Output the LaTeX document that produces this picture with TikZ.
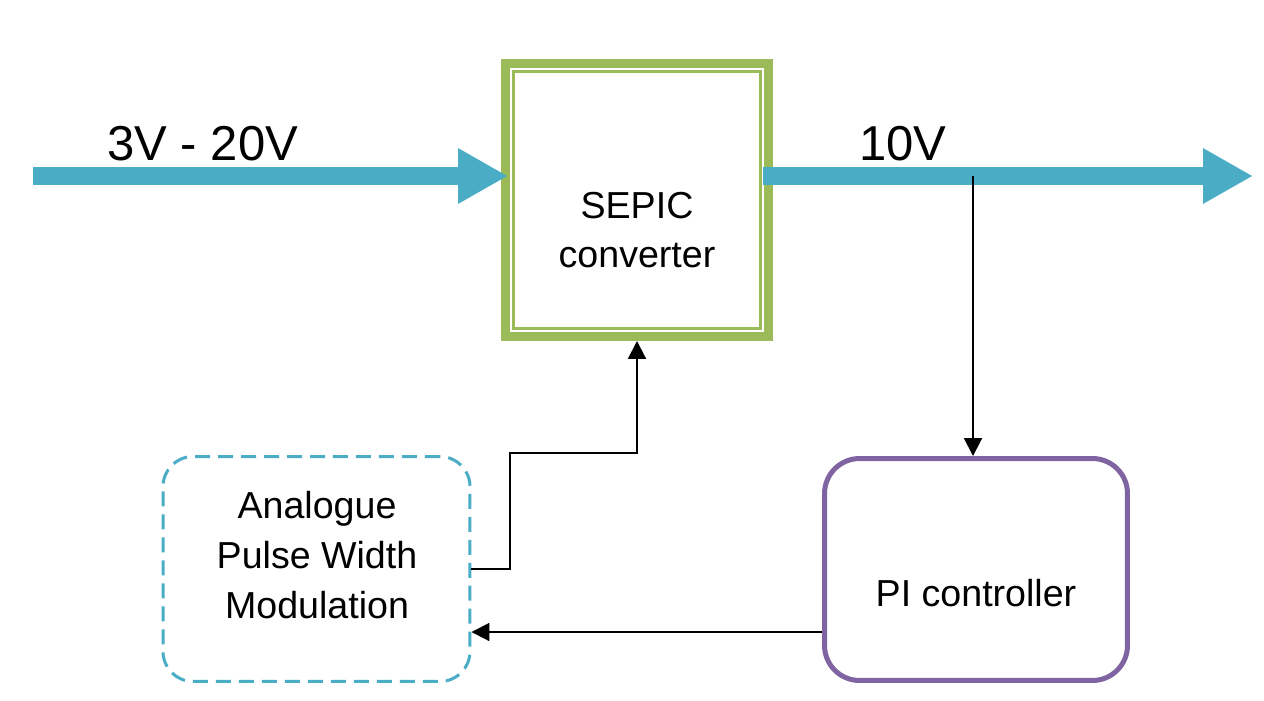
\documentclass[tikz,border=0pt]{standalone}
\usepackage{fontspec}
\setmainfont{Liberation Sans}
\usetikzlibrary{arrows.meta}
\definecolor{flowblue}{HTML}{4BACC6}
\definecolor{sepicgreen}{HTML}{9BBB59}
\definecolor{pipurple}{HTML}{8064A2}
\tikzset{
  flow/.style={draw=flowblue, line width=0.36cm, -{Triangle[length=1cm,width=1.04cm]}},
  conn/.style={draw=black, line width=0.04cm, -{Triangle[length=0.36cm,width=0.36cm]}},
  sepicbox/.style={draw=sepicgreen, line width=0.18cm, minimum width=5.26cm, minimum height=5.46cm, inner sep=0pt},
  pibox/.style={draw=pipurple, line width=0.1cm, rounded corners=0.7cm, minimum width=6.06cm, minimum height=4.44cm, inner sep=0pt},
  pwmbox/.style={draw=flowblue, line width=0.06cm, dash pattern=on 0.3cm off 0.16cm, rounded corners=0.6cm, minimum width=6.14cm, minimum height=4.5cm, inner sep=0pt},
  boxtext/.style={align=center, font=\fontsize{21.4}{28.3}\selectfont, inner sep=0pt},
  volttext/.style={font=\fontsize{27.9}{33}\selectfont, inner sep=0pt, anchor=base west}
}
\begin{document}
\begin{tikzpicture}[x=0.02cm,y=-0.02cm]
\useasboundingbox (0,0) rectangle (1264,700);
% boxes
\node[sepicbox] (sepic) at (637,200) {};
\draw[sepicgreen, line width=0.07cm] ([shift={(0.25cm,-0.25cm)}]sepic.north west) rectangle ([shift={(-0.25cm,0.25cm)}]sepic.south east);
\node[boxtext] (sepictxt) at (637,230) {SEPIC\\converter};
\node[pibox] (pi) at (976,569.5) {};
\node[boxtext] (pitxt) at (976,593) {PI controller};
\node[pwmbox] (pwm) at (316.5,569) {};
\node[boxtext] (pwmtxt) at (317,555) {Analogue\\Pulse Width\\Modulation};
% labels
\node[volttext] (vin) at (107,160) {3V - 20V};
\node[volttext] (vout) at (859,160) {10V};
% power flow
\coordinate (src) at (33,176);
\coordinate (load) at (1253,176);
\coordinate (tap) at (973,176);
\draw[flow] (src) -- ([xshift=0.14cm]sepic.west |- src);
\draw[flow] ([xshift=-0.2cm]sepic.east |- load) -- (load);
% control
\draw[conn] (tap) -- (tap |- pi.north);
\draw[conn] (pwm.east) -| (510,453) -| (sepic.south);
\draw[conn] (pi.west |- 0,632) -- (pwm.east |- 0,632);
\end{tikzpicture}
\end{document}
